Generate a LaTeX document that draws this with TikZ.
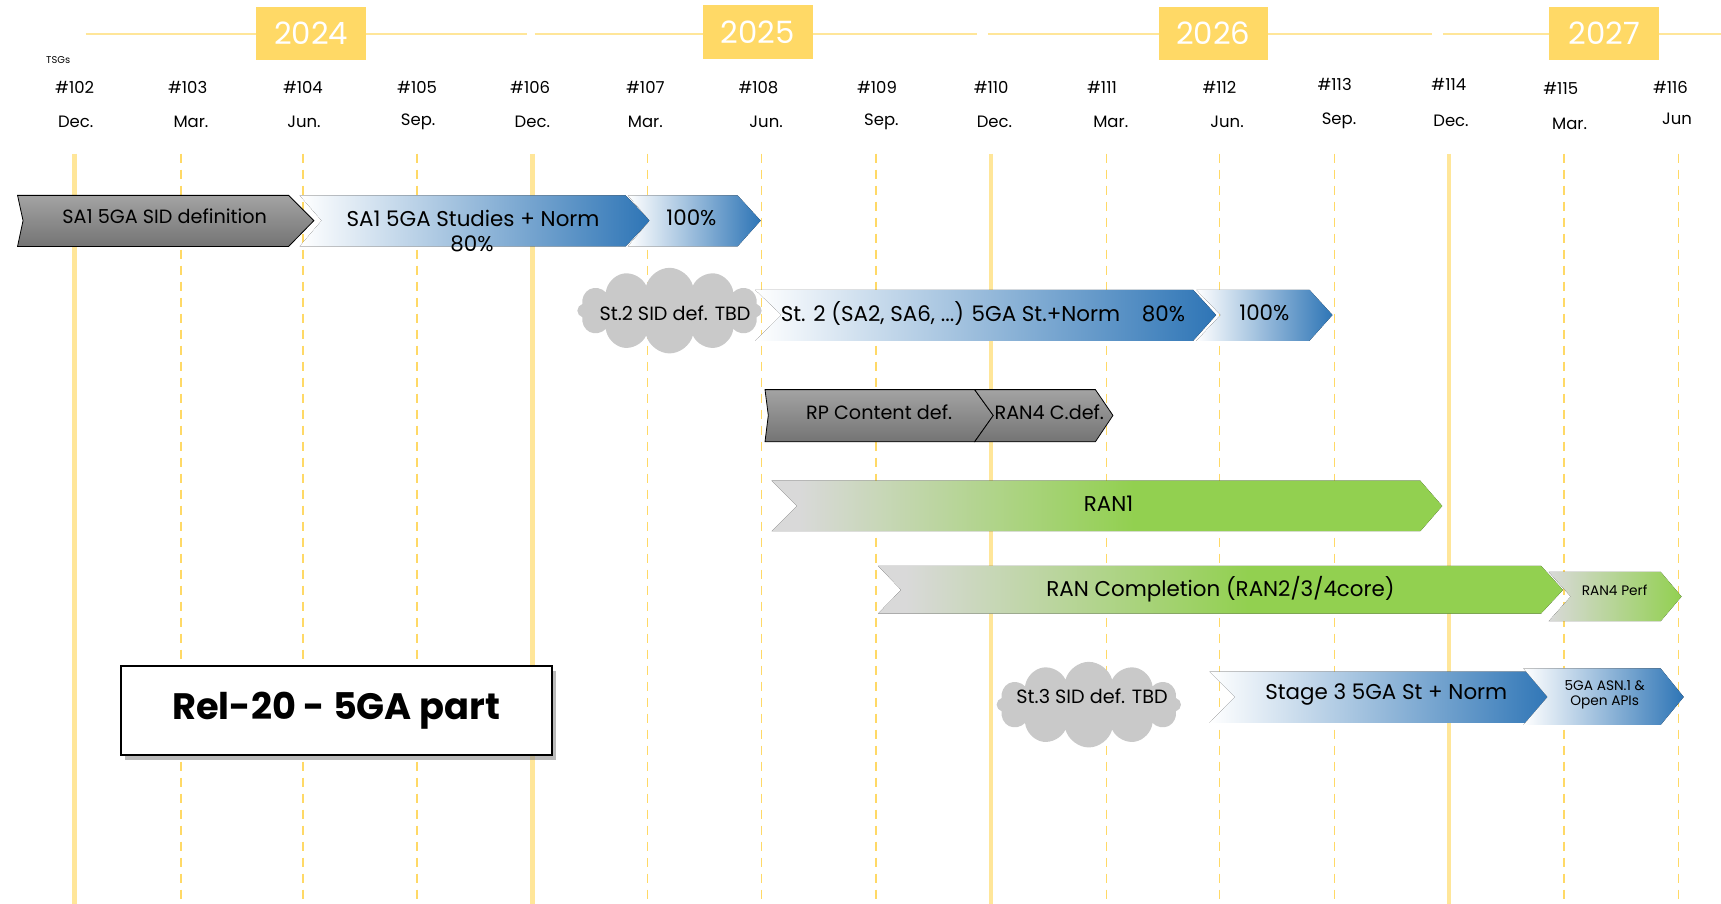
\documentclass[tikz,border=0pt]{standalone}
\usepackage{fontspec}
\setmainfont{Poppins}
\usetikzlibrary{shapes.symbols,shadows,positioning}
\definecolor{yearyellow}{HTML}{FFD966}
\definecolor{lineyellow}{HTML}{FFE699}
\definecolor{barblue}{HTML}{2E75B6}
\definecolor{bargreen}{HTML}{92D050}
\definecolor{barlight}{HTML}{D9D9D9}
\definecolor{graytop}{HTML}{A3A3A3}
\definecolor{graybot}{HTML}{747474}
\definecolor{cloudgray}{HTML}{C9C9C9}
\pgfdeclarehorizontalshading{greenshade}{100bp}{color(0bp)=(barlight); color(27bp)=(barlight); color(52bp)=(bargreen); color(100bp)=(bargreen)}
\begin{document}
\begin{tikzpicture}[x=1pt, y=-1pt, scale=1.0976, transform shape,
    year/.style={fill=yearyellow, text=white, minimum width=100pt, minimum height=49pt, font=\fontsize{28}{30}\selectfont},
    tsg/.style={font=\fontsize{15}{17}\selectfont},
    solidline/.style={lineyellow, line width=4.5pt},
    dashline/.style={yearyellow, line width=1.4pt, dash pattern=on 9pt off 7pt},
    graybar/.style={draw=black, line width=0.8pt, top color=graytop, bottom color=graybot},
    bluebar/.style={left color=white, right color=barblue},
    greenbar/.style={shading=greenshade},
    bartext/.style={font=\fontsize{17.5}{19}\selectfont},
    bigtext/.style={font=\fontsize{19.5}{21}\selectfont},
    smalltext/.style={font=\fontsize{12.5}{13}\selectfont, align=center},
    cloudbox/.style={cloud, cloud puffs=12, aspect=2.2, fill=cloudgray, minimum width=168pt, minimum height=78pt, inner sep=0pt}]
\useasboundingbox (0,0) rectangle (1568,823.6);

% year header
\draw[lineyellow, line width=2.5pt] (78,31) -- (480,31);
\draw[lineyellow, line width=2.5pt] (487,31) -- (890,31);
\draw[lineyellow, line width=2.5pt] (900,31) -- (1305,31);
\draw[lineyellow, line width=2.5pt] (1315,31) -- (1568,31);
\node[year] (Y24) at (283.5,30.5) {2024};
\node[year] (Y25) at (690.5,29.5) {2025};
\node[year] (Y26) at (1105.5,30.5) {2026};
\node[year] (Y27) at (1461.5,30.5) {2027};
\node[font=\fontsize{9}{10}\selectfont] (TSG) at (53,55) {TSGs};

% meetings
\foreach \x/\y/\n in {68/80/102, 171/80/103, 276/80/104, 380/80/105, 483/80/106, 588/80/107, 691/80/108, 799/80/109, 903/80/110, 1004/80/111, 1111/80/112, 1216/77/113, 1320/77/114, 1422/81/115, 1522/80/116}
    \node[tsg] (M\n) at (\x,\y) {\#\n};
\foreach \x/\y/\m in {69/111/Dec., 174/111/Mar., 277/111/Jun., 381/111/Sep., 485/111/Dec., 588/111/Mar., 698/111/Jun., 803/111/Sep., 906/111/Dec., 1012/111/Mar., 1118/111/Jun., 1220/110/Sep., 1322/110/Dec., 1430/113/Mar., 1528/108/Jun}
    \node[tsg] at (\x,\y) {\m};

% quarter lines
\foreach \x in {68,485,903,1320}
    \draw[solidline] (\x,140) -- (\x,825);
\foreach \x in {165,276,380,590,694,798,1008,1111,1216,1425,1529}
    \draw[dashline] (\x,140) -- (\x,825);

% SA1
\draw[graybar] (16,178) -- (263,178) -- (286,201) -- (263,224.5) -- (16,224.5) -- (21,201) -- cycle;
\node[bartext] (SA1SID) at (150,197) {SA1 5GA SID definition};
\fill[bluebar] (273,178) -- (570,178) -- (592,201) -- (570,224.5) -- (273,224.5) -- (293,201) -- cycle;
\node[bigtext] (SA1ST) at (431,199) {SA1 5GA Studies + Norm};
\node[bigtext] (SA1P) at (430,222) {80\%};
\fill[bluebar] (572,178) -- (672,178) -- (693,201) -- (672,224.5) -- (572,224.5) -- (592,201) -- cycle;
\node[bigtext] (SA1F) at (630,198) {100\%};

% stage 2
\node[cloudbox] (CL2) at (610,283) {};
\node[bartext] (CL2T) at (615,285) {St.2 SID def. TBD};
\fill[bluebar] (688,264) -- (1087,264) -- (1108,287) -- (1087,310.5) -- (688,310.5) -- (712,287) -- cycle;
\node[bigtext] (ST2) at (866,286) {St. 2 (SA2, SA6, ...) 5GA St.+Norm};
\node[bigtext] (ST2P) at (1060,286) {80\%};
\fill[bluebar] (1090,264) -- (1193,264) -- (1214,287) -- (1193,310.5) -- (1090,310.5) -- (1112,287) -- cycle;
\node[bigtext] (ST2F) at (1152,285) {100\%};

% RP content
\draw[graybar] (697,355) -- (888,355) -- (905,378.5) -- (888,402.5) -- (697,402.5) -- (700,378.5) -- cycle;
\node[bartext] (RPC) at (801,376) {RP Content def.};
\draw[graybar] (888,355) -- (998,355) -- (1014,378.5) -- (998,402.5) -- (888,402.5) -- (905,378.5) -- cycle;
\node[bartext] (RAN4C) at (956,376) {RAN4 C.def.};

% RAN
\fill[greenbar] (703,438) -- (1294,438) -- (1314,461) -- (1294,484) -- (703,484) -- (726,461) -- cycle;
\node[bigtext] (RAN1) at (1010,459) {RAN1};
\fill[greenbar] (800,515.5) -- (1404,515.5) -- (1424,537.5) -- (1404,559) -- (800,559) -- (821,537.5) -- cycle;
\node[bigtext] (RANC) at (1112,537) {RAN Completion (RAN2/3/4core)};
\fill[left color=barlight, right color=bargreen] (1411,521) -- (1513,521) -- (1532,543.5) -- (1513,566) -- (1411,566) -- (1431,543.5) -- cycle;
\node[smalltext] (RAN4P) at (1471,538) {RAN4 Perf};

% stage 3
\node[cloudbox] (CL3) at (992,642) {};
\node[bartext] (CL3T) at (995,634) {St.3 SID def. TBD};
\fill[bluebar] (1102,612) -- (1392,612) -- (1414,635) -- (1392,658.5) -- (1102,658.5) -- (1125,635) -- cycle;
\node[bigtext] (ST3) at (1263,633) {Stage 3 5GA St + Norm};
\fill[bluebar] (1388,609) -- (1513,609) -- (1534,635) -- (1513,660.5) -- (1388,660.5) -- (1410,635) -- cycle;
\node[smalltext] (ST3A) at (1462,633) {5GA ASN.1 \&\\Open APIs};

% title
\node[draw, line width=1.6pt, fill=white, minimum width=393pt, minimum height=81pt,
    drop shadow={shadow xshift=4pt, shadow yshift=-5pt, fill=black!45, opacity=.6},
    font=\fontsize{33.5}{36}\selectfont\bfseries] (REL) at (306.5,647.5) {Rel-20 - 5GA part};
\end{tikzpicture}
\end{document}
